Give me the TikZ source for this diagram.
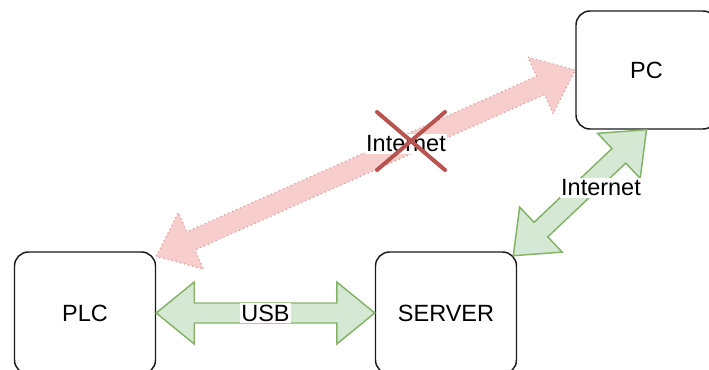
\documentclass[tikz,border=0pt]{standalone}
\usepackage{fontspec}
\setmainfont{Liberation Sans}
\usetikzlibrary{calc}

\definecolor{boxline}{HTML}{1A1A1A}
\definecolor{okfill}{HTML}{D5E8D4}
\definecolor{okline}{HTML}{82B366}
\definecolor{badfill}{HTML}{F8CECC}
\definecolor{badline}{HTML}{D09C9A}
\definecolor{crossline}{HTML}{B85450}

% block arrow with a head at both ends, drawn between two points
% (head length, head half width, shaft half width, all in pt)
\newcommand\ArrowHeadLen{28.5pt}
\newcommand\ArrowHeadHalf{23.25pt}
\newcommand\ArrowShaftHalf{7.5pt}
\newcommand\flexarrow[3]{%
  \path[#1] let \p1=(#2), \p2=(#3),
    \n1={atan2(\y2-\y1,\x2-\x1)},
    \n2={veclen(\x2-\x1,\y2-\y1)} in
    {[shift={(\p1)}, rotate=\n1]
     (0pt,0pt) -- (\ArrowHeadLen,\ArrowHeadHalf) -- (\ArrowHeadLen,\ArrowShaftHalf)
     -- ({\n2-\ArrowHeadLen},\ArrowShaftHalf) -- ({\n2-\ArrowHeadLen},\ArrowHeadHalf)
     -- ({\n2+0pt},0pt)
     -- ({\n2-\ArrowHeadLen},-\ArrowHeadHalf) -- ({\n2-\ArrowHeadLen},-\ArrowShaftHalf)
     -- (\ArrowHeadLen,-\ArrowShaftHalf) -- (\ArrowHeadLen,-\ArrowHeadHalf) -- cycle};%
}

\begin{document}
\begin{tikzpicture}[x=0.75pt, y=0.75pt,
  font=\fontsize{17.6}{21}\selectfont,
  device/.style={draw=boxline, line width=1.1pt, fill=white, rounded corners=10.5pt,
    minimum width=105.75pt, minimum height=88.5pt, inner sep=0pt},
  okarrow/.style={fill=okfill, draw=okline, line width=1.1pt, line join=miter},
  badarrow/.style={fill=badfill, draw=badline, line width=0.9pt,
    dash pattern=on 0.8pt off 2.4pt},
  linklabel/.style={fill=white, inner sep=1pt},
  blocked/.style={draw=crossline, line width=3pt, line cap=round}]

\useasboundingbox (0,0) rectangle (709,369);
\clip (0,0) rectangle (709,369);

% devices
\node[device, minimum height=91.5pt] (plc)    at (85,56)  {PLC};
\node[device, minimum height=91.5pt] (server) at (446,56) {SERVER};
\node[device] (pc) at (646.5,299) {PC};

% attachment points near the upper right corners
\coordinate (plcport) at ($(plc.north east)+(0,-5)$);
\coordinate (srvport) at ($(server.north east)+(-4,-4.5)$);

% links
\flexarrow{badarrow}{plcport}{pc.west}
\flexarrow{okarrow}{plc.east}{server.west}
\flexarrow{okarrow}{pc.south}{srvport}

% link labels
\node[linklabel] (usb)  at ($(plc.east)!0.5!(server.west)$) {USB};
\node[linklabel] (net1) at (406,225) {Internet};
\node[linklabel] (net2) at (601,181) {Internet};

% the direct link is unavailable
\draw[blocked] (377,257) -- (445,199);
\draw[blocked] (377,199) -- (445,257);
\end{tikzpicture}
\end{document}
